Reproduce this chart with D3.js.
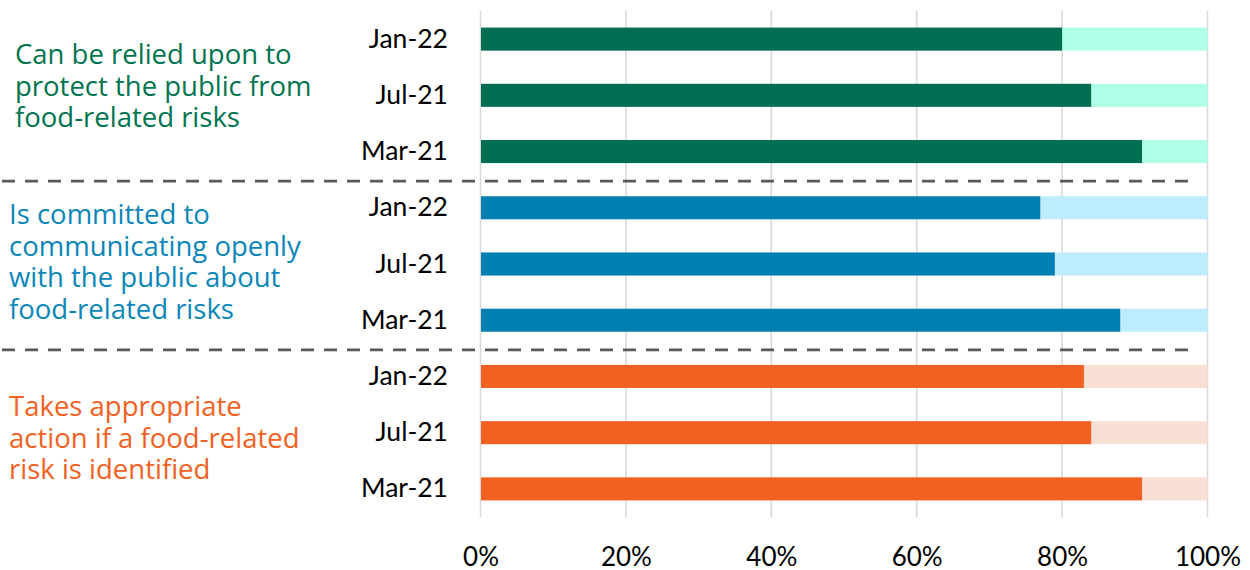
<!DOCTYPE html>
<html>
<head>
<meta charset="utf-8">
<script src="https://cdn.jsdelivr.net/npm/d3@7"></script>
<style>
  html, body { margin: 0; padding: 0; background: #ffffff; }
  svg { display: block; }
</style>
</head>
<body>
<svg id="chart" width="1250" height="570"></svg>
<script>
// Survey waves shown for each statement (top to bottom)
const waves = ["Jan-22", "Jul-21", "Mar-21"];

// Statement labels, one line per array entry
const statements = [
  ["Can be relied upon to", "protect the public from", "food-related risks"],
  ["Is committed to", "communicating openly", "with the public about", "food-related risks"],
  ["Takes appropriate", "action if a food-related", "risk is identified"]
];

// Share agreeing, per statement, in wave order
const agreeRelied = [0.80, 0.84, 0.91];
const agreeOpen = [0.77, 0.79, 0.88];
const agreeAction = [0.83, 0.84, 0.91];

// Axis ticks
const tickValues = [0, 0.2, 0.4, 0.6, 0.8, 1.0];

// Colour pairs: strong part, remainder to 100%
const strongColours = ["#006e51", "#0080b2", "#f26122"];
const paleColours = ["#b0ffe8", "#bdecfd", "#fadfd4"];
const labelColours = ["#00744f", "#0a86b8", "#f26122"];

const seriesValues = [agreeRelied, agreeOpen, agreeAction];

const rows = [];
seriesValues.forEach((vals, g) => {
  waves.forEach((w, i) => {
    rows.push({ key: g + "-" + w, group: g, wave: w, value: vals[i] });
  });
});

const svg = d3.select("#chart");

const x = d3.scaleLinear().domain([0, 1]).range([480.5, 1207.5]);
const y = d3.scaleBand()
  .domain(rows.map(d => d.key))
  .range([11, 517])
  .paddingInner(0.59)
  .paddingOuter(0.295);

// Vertical gridlines
svg.append("g")
  .selectAll("line")
  .data(tickValues)
  .join("line")
  .attr("x1", d => x(d))
  .attr("x2", d => x(d))
  .attr("y1", 11)
  .attr("y2", 517)
  .attr("stroke", "#d9d9d9")
  .attr("stroke-width", 1.6);

// Remainder (pale) bars to 100%
svg.append("g")
  .selectAll("rect")
  .data(rows)
  .join("rect")
  .attr("x", d => x(d.value))
  .attr("y", d => y(d.key))
  .attr("width", d => x(1) - x(d.value))
  .attr("height", y.bandwidth())
  .attr("fill", d => paleColours[d.group]);

// Agreement bars
svg.append("g")
  .selectAll("rect")
  .data(rows)
  .join("rect")
  .attr("x", x(0) + 0.5)
  .attr("y", d => y(d.key))
  .attr("width", d => x(d.value) - x(0) - 0.5)
  .attr("height", y.bandwidth())
  .attr("fill", d => strongColours[d.group]);

// Wave labels
svg.append("g")
  .selectAll("text")
  .data(rows)
  .join("text")
  .attr("x", 448)
  .attr("y", d => y(d.key) + y.bandwidth() / 2 + 8.5)
  .attr("text-anchor", "end")
  .attr("font-family", "Lato, 'Open Sans', sans-serif")
  .attr("font-size", 26.5)
  .attr("fill", "#000000")
  .text(d => d.wave);

// Dashed separators between statements
const separators = [1, 2].map(g => {
  const lastPrev = y(rows[g * 3 - 1].key) + y.bandwidth();
  const firstNext = y(rows[g * 3].key);
  return (lastPrev + firstNext) / 2 + 1.5;
});
svg.append("g")
  .selectAll("line")
  .data(separators)
  .join("line")
  .attr("x1", 2)
  .attr("x2", 1196)
  .attr("y1", d => d)
  .attr("y2", d => d)
  .attr("stroke", "#595959")
  .attr("stroke-width", 2.6)
  .attr("stroke-dasharray", "13 10");

// Statement labels
const labelLayout = [
  { x: 15, y: 64 },
  { x: 9, y: 224 },
  { x: 9, y: 416 }
];
statements.forEach((lines, g) => {
  const t = svg.append("text")
    .attr("x", labelLayout[g].x)
    .attr("y", labelLayout[g].y)
    .attr("font-family", "'Open Sans', sans-serif")
    .attr("font-size", 27.5)
    .attr("fill", labelColours[g]);
  lines.forEach((ln, i) => {
    t.append("tspan")
      .attr("x", labelLayout[g].x)
      .attr("dy", i === 0 ? 0 : 31.5)
      .text(ln);
  });
});

// Percentage axis
const axis = d3.axisBottom(x)
  .tickValues(tickValues)
  .tickFormat(d3.format(".0%"))
  .tickSize(0)
  .tickPadding(0);
const ax = svg.append("g")
  .attr("transform", "translate(0,566)")
  .call(axis);
ax.select(".domain").remove();
ax.selectAll("text")
  .attr("dy", 0)
  .attr("font-family", "Lato, 'Open Sans', sans-serif")
  .attr("font-size", 26)
  .attr("fill", "#000000");
</script>
</body>
</html>
